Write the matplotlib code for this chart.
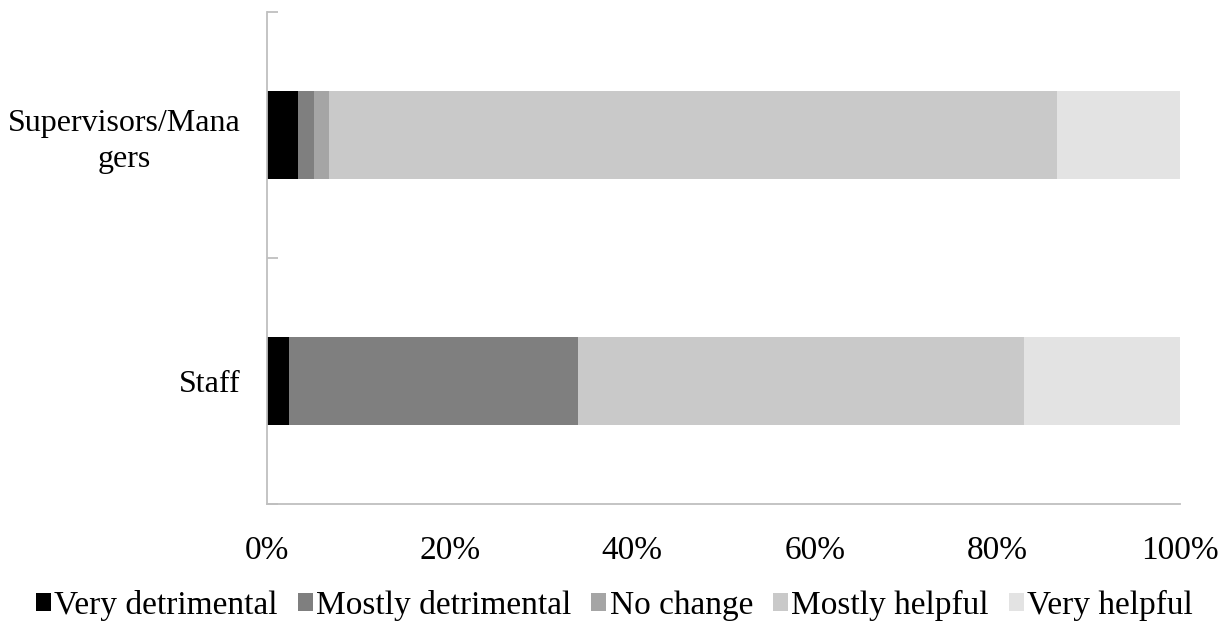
import matplotlib.pyplot as plt
from matplotlib.patches import Patch

plt.rcParams['font.family'] = ['Liberation Serif', 'DejaVu Serif']

groups = ["Staff", "Supervisors/Mana\ngers"]
series = ["Very detrimental", "Mostly detrimental", "No change", "Mostly helpful", "Very helpful"]
colors = ["#000000", "#7f7f7f", "#a5a5a5", "#c9c9c9", "#e3e3e3"]

# percentage shares per group (Staff, Supervisors/Managers)
very_detrimental = [2.4, 3.4]
mostly_detrimental = [31.7, 1.7]
no_change = [0.0, 1.7]
mostly_helpful = [48.8, 79.7]
very_helpful = [17.1, 13.5]
values = [very_detrimental, mostly_detrimental, no_change, mostly_helpful, very_helpful]
xticks = [0, 20, 40, 60, 80, 100]
xticklabels = ["0%", "20%", "40%", "60%", "80%", "100%"]

FS = 24

fig = plt.figure(figsize=(12.29, 6.32), dpi=100)
ax = fig.add_axes([267 / 1229, 128 / 632, 913 / 1229, 492 / 632])

ypos = [0.5, 1.5]
left = [0.0, 0.0]
for name, vals, col in zip(series, values, colors):
    ax.barh(ypos, vals, left=left, height=0.36, color=col, edgecolor='none', label=name)
    left = [l + v for l, v in zip(left, vals)]

ax.set_xlim(0, 100)
ax.set_ylim(0, 2)

for s in ['top', 'right']:
    ax.spines[s].set_visible(False)
for s in ['left', 'bottom']:
    ax.spines[s].set_color('#bfbfbf')
    ax.spines[s].set_linewidth(1.3)

ax.set_xticks(xticks)
ax.set_xticklabels(xticklabels, fontsize=FS)
ax.tick_params(axis='x', length=0, pad=22.5)

ax.set_yticks([0, 1, 2])
ax.set_yticklabels([])
ax.tick_params(axis='y', which='major', direction='in', length=8, color='#bfbfbf', width=1.3)
ax.set_yticks(ypos, minor=True)
ax.set_yticklabels(groups, minor=True, fontsize=23, multialignment='center', linespacing=1.3)
ax.tick_params(axis='y', which='minor', length=0, pad=19)

handles = [Patch(facecolor=c, edgecolor='none') for c in colors]
fig.legend(handles, series, loc='center', bbox_to_anchor=(0.5, 1 - 605 / 632), ncol=5,
           frameon=False, fontsize=FS, handlelength=0.45, handleheight=0.45,
           handletextpad=0.1, columnspacing=0.6)

fig.savefig('out.png', dpi=100)
